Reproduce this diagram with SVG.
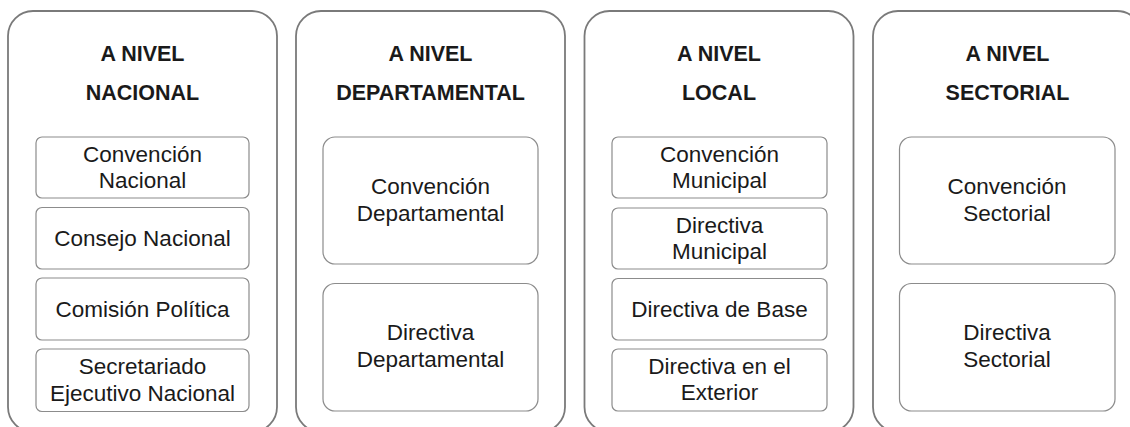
<svg xmlns="http://www.w3.org/2000/svg" width="1130" height="427" viewBox="0 0 1130 427">
<style>
.panel{fill:#fff;stroke:#7a7a7a;stroke-width:1.8}
.box{fill:#fff;stroke:#8c8c8c;stroke-width:1.2}
.title{font-family:"Liberation Sans",Arial,sans-serif;font-weight:700;font-size:21.5px;fill:#1a1a1a;text-anchor:middle}
.t{font-family:"Liberation Sans",Arial,sans-serif;font-size:22.5px;fill:#1a1a1a;text-anchor:middle}
</style>
<rect width="1130" height="427" fill="#fff"/>
<g id="connectors"/>
<g id="nacional">
<rect class="panel" x="8" y="11" width="269" height="421" rx="25"/>
<text class="title" x="142.5" y="61">A NIVEL</text>
<text class="title" x="142.5" y="100">NACIONAL</text>
<g id="convencion-nacional"><rect class="box" x="36" y="137" width="213" height="61" rx="6"/>
<text class="t" x="142.5" y="162">Convención</text><text class="t" x="142.5" y="188">Nacional</text></g>
<g id="consejo-nacional"><rect class="box" x="36" y="207.5" width="213" height="61.5" rx="6"/>
<text class="t" x="142.5" y="246">Consejo Nacional</text></g>
<g id="comision-politica"><rect class="box" x="36" y="278" width="213" height="62" rx="6"/>
<text class="t" x="142.5" y="316.5">Comisión Política</text></g>
<g id="secretariado"><rect class="box" x="36" y="349" width="213" height="62.5" rx="6"/>
<text class="t" x="142.5" y="374">Secretariado</text><text class="t" x="142.5" y="401">Ejecutivo Nacional</text></g>
</g>
<g id="departamental">
<rect class="panel" x="296" y="11" width="269" height="421" rx="25"/>
<text class="title" x="430.5" y="61">A NIVEL</text>
<text class="title" x="430.5" y="100">DEPARTAMENTAL</text>
<g id="convencion-departamental"><rect class="box" x="323" y="137" width="215" height="127" rx="12"/>
<text class="t" x="430.5" y="194">Convención</text><text class="t" x="430.5" y="221">Departamental</text></g>
<g id="directiva-departamental"><rect class="box" x="323" y="283.5" width="215" height="127.5" rx="12"/>
<text class="t" x="430.5" y="340">Directiva</text><text class="t" x="430.5" y="367">Departamental</text></g>
</g>
<g id="local">
<rect class="panel" x="584.5" y="11" width="269" height="421" rx="25"/>
<text class="title" x="719" y="61">A NIVEL</text>
<text class="title" x="719" y="100">LOCAL</text>
<g id="convencion-municipal"><rect class="box" x="612" y="137" width="215" height="61" rx="6"/>
<text class="t" x="719.5" y="162">Convención</text><text class="t" x="719.5" y="188">Municipal</text></g>
<g id="directiva-municipal"><rect class="box" x="612" y="208" width="215" height="61" rx="6"/>
<text class="t" x="719.5" y="233">Directiva</text><text class="t" x="719.5" y="259">Municipal</text></g>
<g id="directiva-base"><rect class="box" x="612" y="278.5" width="215" height="61.5" rx="6"/>
<text class="t" x="719.5" y="316.5">Directiva de Base</text></g>
<g id="directiva-exterior"><rect class="box" x="612" y="349" width="215" height="62" rx="6"/>
<text class="t" x="719.5" y="374">Directiva en el</text><text class="t" x="719.5" y="400">Exterior</text></g>
</g>
<g id="sectorial">
<rect class="panel" x="873" y="11" width="269" height="421" rx="25"/>
<text class="title" x="1007.5" y="61">A NIVEL</text>
<text class="title" x="1007.5" y="100">SECTORIAL</text>
<g id="convencion-sectorial"><rect class="box" x="899.5" y="137" width="215.5" height="127" rx="12"/>
<text class="t" x="1007" y="194">Convención</text><text class="t" x="1007" y="221">Sectorial</text></g>
<g id="directiva-sectorial"><rect class="box" x="899.5" y="283.5" width="215.5" height="127.5" rx="12"/>
<text class="t" x="1007" y="340">Directiva</text><text class="t" x="1007" y="367">Sectorial</text></g>
</g>
</svg>
